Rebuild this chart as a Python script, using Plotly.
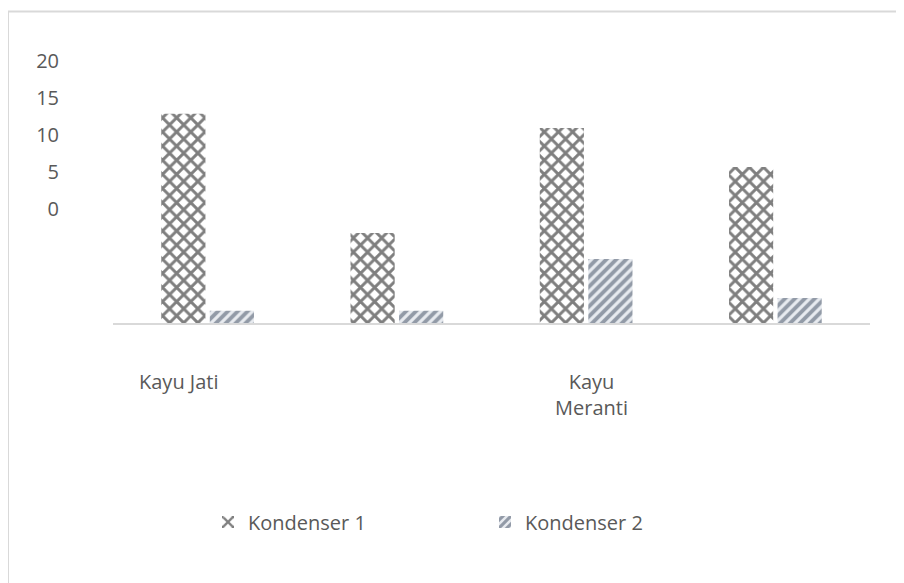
import plotly.graph_objects as go

# Data (units follow the printed tick spacing)
groups = [0, 1, 2, 3]
category_labels = ["Kayu Jati", "Kayu<br>Meranti"]
category_label_pos = [-0.15, 2.03]
kondenser1 = [28.4, 12.3, 26.5, 21.2]
kondenser2 = [1.8, 1.8, 8.8, 3.5]
tick_text = ["0", "5", "10", "15", "20"]
tick_vals = [15.5, 20.6, 25.6, 30.6, 35.5]

W, H = 904, 583
OFF = 8  # page body margin offset
# plot area in screen pixels
SL, SR, ST, SB = 113, 870, 40, 324
L = SL - OFF
T = ST - OFF
PW = SR - SL
PH = SB - ST
R = W - L - PW
B = H - T - PH
YMAX = PH / 7.4

def px_x(p):
    return (p - SL) / PW

def px_y(p):
    return (SB - p) / PH

font_color = "#595959"
FONT = "Open Sans, Liberation Sans, sans-serif"

fig = go.Figure()
fig.add_trace(go.Bar(
    x=groups, y=kondenser1, name="Kondenser 1",
    marker=dict(color="white", line=dict(width=0),
                pattern=dict(shape="x", fgcolor="#000000", bgcolor="white",
                             size=10, solidity=0.5)),
))
fig.add_trace(go.Bar(
    x=groups, y=kondenser2, name="Kondenser 2",
    marker=dict(color="white", line=dict(width=0),
                pattern=dict(shape="/", fgcolor="#3b4a5e", bgcolor="#e8ebf0",
                             size=7, solidity=0.55)),
))

shapes = [
    # baseline
    dict(type="line", xref="paper", yref="paper", x0=0, x1=1, y0=0, y1=0,
         line=dict(color="#d9d9d9", width=2)),
    # outer top border
    dict(type="line", xref="paper", yref="paper", x0=px_x(8), x1=px_x(912),
         y0=px_y(11.5), y1=px_y(11.5), line=dict(color="#d9d9d9", width=2)),
    # outer left border
    dict(type="line", xref="paper", yref="paper", x0=px_x(8), x1=px_x(8),
         y0=px_y(11.5), y1=px_y(600), line=dict(color="#d9d9d9", width=2)),
]

annotations = []
for lab, pos in zip(category_labels, category_label_pos):
    annotations.append(dict(
        x=pos, y=px_y(366), xref="x", yref="paper", text=lab, showarrow=False,
        xanchor="center", yanchor="top", align="center",
        font=dict(family=FONT, size=20, color=font_color)))

fig.update_layout(
    width=W, height=H,
    margin=dict(l=L, r=R, t=T, b=B),
    paper_bgcolor="white", plot_bgcolor="white",
    barmode="group", bargap=0.487, bargroupgap=0.09,
    showlegend=True,
    legend=dict(orientation="h", x=px_x(208), xanchor="left", y=px_y(522),
                yanchor="middle", entrywidth=232, entrywidthmode="pixels",
                font=dict(family=FONT, size=20, color=font_color)),
    xaxis=dict(range=[-0.5, 3.5], showticklabels=False, showgrid=False,
               zeroline=False, showline=False, ticks=""),
    yaxis=dict(range=[0, YMAX], tickvals=tick_vals, ticktext=tick_text,
               showgrid=False, zeroline=False, showline=False, ticks="",
               tickfont=dict(family=FONT, size=20, color=font_color),
               ticklabelstandoff=53),
    shapes=shapes,
    annotations=annotations,
)

fig.write_html("out.html")
